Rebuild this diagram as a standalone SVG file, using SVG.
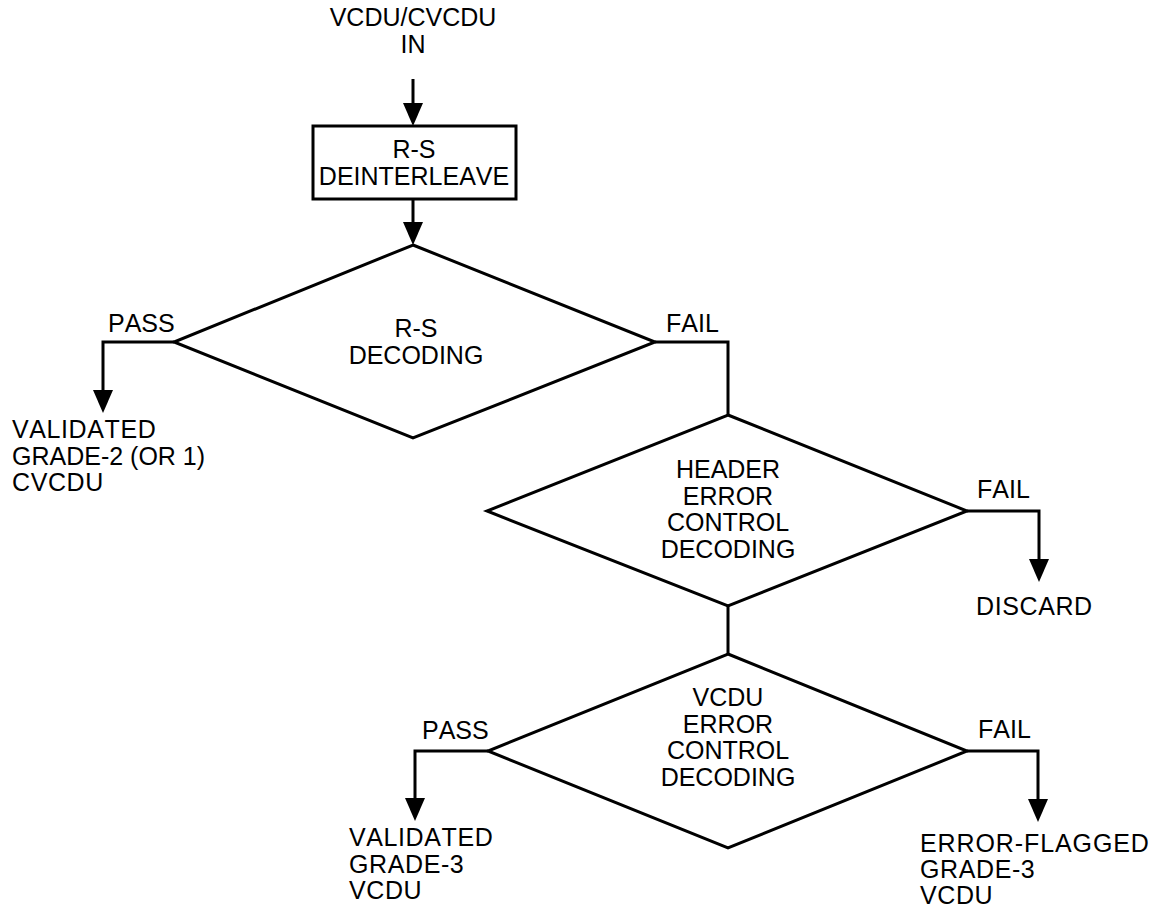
<svg xmlns="http://www.w3.org/2000/svg" width="1159" height="910" viewBox="0 0 1159 910">
<defs>
<style>
.s{fill:none;stroke:#000;stroke-width:3;stroke-linejoin:miter}
.n{fill:#fff;stroke:#000;stroke-width:3}
text{font-family:"Liberation Sans",Arial,sans-serif;font-size:25px;fill:#000;font-kerning:none}
.c{text-anchor:middle}
.o{letter-spacing:0.6px}
</style>
<marker id="ah" markerUnits="userSpaceOnUse" markerWidth="24" markerHeight="22" refX="0" refY="10" orient="auto" overflow="visible">
<path d="M0,0 L23,10 L0,20 Z" fill="#000"/>
</marker>
</defs>
<rect width="1159" height="910" fill="#fff"/>
<g id="input">
<text class="c" x="413" y="26">VCDU/CVCDU</text>
<text class="c" x="413" y="53">IN</text>
</g>
<g id="connectors">
<path class="s" d="M413,79 V103" marker-end="url(#ah)"/>
<path class="s" d="M413,199 V222" marker-end="url(#ah)"/>
<path class="s" d="M174,342 H103 V390" marker-end="url(#ah)"/>
<path class="s" d="M655,342 H728 V415"/>
<path class="s" d="M728,606 V654"/>
<path class="s" d="M967,511 H1039 V559" marker-end="url(#ah)"/>
<path class="s" d="M488,751 H415 V798" marker-end="url(#ah)"/>
<path class="s" d="M967,751 H1038 V799" marker-end="url(#ah)"/>
</g>
<g id="deinterleave">
<rect class="n" x="313" y="126" width="203" height="73"/>
<text class="c" x="414" y="158">R-S</text>
<text class="c" x="414" y="185">DEINTERLEAVE</text>
</g>
<g id="rs-decoding">
<polygon class="n" points="413,245 655,342 413,438 174,342"/>
<text class="c" x="416" y="337">R-S</text>
<text class="c" x="416" y="364">DECODING</text>
</g>
<g id="header-decoding">
<polygon class="n" points="728,415 967,511 728,606 487,511"/>
<text class="c" x="728" y="478">HEADER</text>
<text class="c" x="728" y="505">ERROR</text>
<text class="c" x="728" y="531">CONTROL</text>
<text class="c" x="728" y="558">DECODING</text>
</g>
<g id="vcdu-decoding">
<polygon class="n" points="728,654 967,751 728,848 488,751"/>
<text class="c" x="728" y="706">VCDU</text>
<text class="c" x="728" y="733">ERROR</text>
<text class="c" x="728" y="759">CONTROL</text>
<text class="c" x="728" y="786">DECODING</text>
</g>
<g id="labels">
<text x="108" y="332">PASS</text>
<text x="666" y="332">FAIL</text>
<text x="977" y="498">FAIL</text>
<text x="422" y="739">PASS</text>
<text x="978" y="738">FAIL</text>
</g>
<g id="out-validated-2">
<text class="o" x="12" y="438">VALIDATED</text>
<text x="12" y="465">GRADE-2 (OR 1)</text>
<text class="o" x="12" y="491">CVCDU</text>
</g>
<g id="out-discard">
<text class="o" x="976" y="615">DISCARD</text>
</g>
<g id="out-validated-3">
<text class="o" x="349" y="846">VALIDATED</text>
<text class="o" x="349" y="873">GRADE-3</text>
<text class="o" x="349" y="899">VCDU</text>
</g>
<g id="out-error-flagged">
<text class="o" x="920" y="852" style="letter-spacing:0.9px">ERROR-FLAGGED</text>
<text class="o" x="920" y="878">GRADE-3</text>
<text class="o" x="920" y="904">VCDU</text>
</g>
</svg>
